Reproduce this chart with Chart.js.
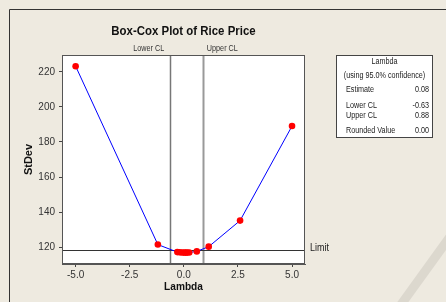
<!DOCTYPE html>
<html>
<head>
<meta charset="utf-8">
<script src="https://cdn.jsdelivr.net/npm/chart.js@4.4.1/dist/chart.umd.min.js"></script>
<style>
  html, body { margin: 0; padding: 0; background: #eeeae0; }
  #wrap { width: 446px; height: 302px; position: relative; }
</style>
</head>
<body>
<div id="wrap"><canvas id="mycanvas" width="446" height="302"></canvas></div>
<script>
// values
var lambdaVals = [-5, -1.2, -0.3, -0.2, -0.1, 0, 0.08, 0.15, 0.25, 0.6, 1.15, 2.6, 5];
var stdevVals = [223.3, 121.4, 117.1, 117.0, 116.9, 116.8, 116.8, 116.8, 116.9, 117.5, 120.2, 135.1, 189.1];
var xTicks = [-5, -2.5, 0, 2.5, 5];
var yTicks = [120, 140, 160, 180, 200, 220];
var lowerCL = -0.63;
var upperCL = 0.88;
var limitVal = 118.5;
var infoRows = [["Estimate", "0.08"], ["Lower CL", "-0.63"], ["Upper CL", "0.88"], ["Rounded Value", "0.00"]];

var FONT = "'Liberation Sans', Arial, sans-serif";

var points = [];
for (var i in lambdaVals) {
    points.push({x: lambdaVals[i], y: stdevVals[i]});
}

// draws text squeezed a little in width, like the narrow original font
function narrowText(c, txt, x, y, align, sx) {
    c.save();
    c.translate(x, y);
    c.scale(sx, 1);
    c.textAlign = align;
    c.fillText(txt, 0, 0);
    c.restore();
}

// background, frame and plot area
var backPlugin = {
    id: 'backPlugin',
    beforeDraw: function(chart) {
        var c = chart.ctx, a = chart.chartArea;
        c.save();
        // faint diagonal stripe of the screenshot
        c.strokeStyle = '#dcd8ce';
        c.lineWidth = 9;
        c.beginPath();
        c.moveTo(452, 234);
        c.lineTo(400, 306);
        c.stroke();
        // outer frame
        c.strokeStyle = '#333';
        c.lineWidth = 1;
        c.beginPath();
        c.moveTo(9.5, 302);
        c.lineTo(9.5, 9.5);
        c.lineTo(446, 9.5);
        c.stroke();
        c.fillStyle = '#fff';
        c.fillRect(a.left, a.top, a.right - a.left, a.bottom - a.top);
        c.restore();
    }
};

var overPlugin = {
    id: 'overPlugin',
    beforeDatasetsDraw: function(chart) {
        var c = chart.ctx, a = chart.chartArea;
        var xs = chart.scales.x, ys = chart.scales.y;
        c.save();
        var xl = Math.round(xs.getPixelForValue(lowerCL)) + 0.5;
        var xu = Math.round(xs.getPixelForValue(upperCL)) + 0.5;
        var yl = Math.round(ys.getPixelForValue(limitVal)) + 0.5;
        c.strokeStyle = '#777';
        c.lineWidth = 1.5;
        c.beginPath(); c.moveTo(xl, a.top); c.lineTo(xl, a.bottom); c.stroke();
        c.strokeStyle = '#999';
        c.lineWidth = 2;
        c.beginPath(); c.moveTo(xu, a.top); c.lineTo(xu, a.bottom); c.stroke();
        c.strokeStyle = '#333';
        c.lineWidth = 1;
        c.beginPath(); c.moveTo(a.left, yl); c.lineTo(a.right, yl); c.stroke();
        c.restore();
    },
    afterDraw: function(chart) {
        var c = chart.ctx, a = chart.chartArea;
        var xs = chart.scales.x, ys = chart.scales.y;
        c.save();
        // plot border
        c.strokeStyle = '#555';
        c.lineWidth = 1;
        c.strokeRect(a.left + 0.5, a.top + 0.5, a.right - a.left - 1, a.bottom - a.top - 1);

        c.fillStyle = '#111';
        c.textBaseline = 'middle';
        c.font = "bold 13px " + FONT;
        narrowText(c, "Box-Cox Plot of Rice Price", (a.left + a.right) / 2, 31, 'center', 0.88);
        c.font = "bold 11px " + FONT;
        narrowText(c, "Lambda", (a.left + a.right) / 2, 287, 'center', 0.92);
        c.save();
        c.translate(29, (a.top + a.bottom) / 2);
        c.rotate(-Math.PI / 2);
        c.textAlign = 'center';
        c.fillText("StDev", 0, 0);
        c.restore();

        c.font = "8.5px " + FONT;
        c.fillStyle = '#333';
        narrowText(c, "Lower CL", xs.getPixelForValue(lowerCL) - 6, 49, 'right', 0.85);
        narrowText(c, "Upper CL", xs.getPixelForValue(upperCL) + 4, 49, 'left', 0.85);
        c.font = "10px " + FONT;
        c.fillStyle = '#222';
        narrowText(c, "Limit", a.right + 5, ys.getPixelForValue(limitVal) - 1, 'left', 0.9);

        // info box
        var bx = 336.5, by = 55.5, bw = 96, bh = 82;
        c.fillStyle = '#fff';
        c.fillRect(bx, by, bw, bh);
        c.strokeStyle = '#444';
        c.strokeRect(bx, by, bw, bh);
        c.fillStyle = '#222';
        c.font = "8.5px " + FONT;
        narrowText(c, "Lambda", bx + bw / 2, 62, 'center', 0.85);
        narrowText(c, "(using 95.0% confidence)", bx + bw / 2, 75.5, 'center', 0.85);
        var rowY = [89.5, 105.5, 115.5, 131];
        for (var r in infoRows) {
            narrowText(c, infoRows[r][0], 346, rowY[r], 'left', 0.85);
            narrowText(c, infoRows[r][1], 429, rowY[r], 'right', 0.85);
        }
        c.restore();
    }
};

var ctx = document.getElementById("mycanvas");

var BoxCox = new Chart(ctx, {
    type: 'scatter',
    data: {
        datasets: [{
            label: "StDev",
            data: points,
            showLine: true,
            borderColor: "#0000ff",
            borderWidth: 1,
            backgroundColor: "#ff0000",
            pointBackgroundColor: "#ff0000",
            pointBorderColor: "#ff0000",
            pointRadius: 3.3,
            pointBorderWidth: 0
        }]
    },
    plugins: [backPlugin, overPlugin],
    options: {
        responsive: false,
        animation: false,
        events: [],
        layout: { padding: { left: 0, top: 55, right: 141, bottom: 0 } },
        plugins: { legend: { display: false }, tooltip: { enabled: false } },
        scales: {
            x: {
                type: 'linear',
                min: -5.63,
                max: 5.6,
                afterBuildTicks: function(scale) {
                    scale.ticks = xTicks.map(function(v) { return {value: v}; });
                },
                afterFit: function(scale) { scale.height = 38; },
                grid: { display: true, drawOnChartArea: false, drawTicks: true, tickLength: 3, color: '#444' },
                border: { display: true, color: '#555' },
                ticks: {
                    color: '#333',
                    padding: 2,
                    maxRotation: 0,
                    font: { family: FONT, size: 10 },
                    callback: function(v) { return v.toFixed(1); }
                }
            },
            y: {
                type: 'linear',
                min: 110.3,
                max: 229.7,
                afterBuildTicks: function(scale) {
                    scale.ticks = yTicks.map(function(v) { return {value: v}; });
                },
                afterFit: function(scale) { scale.width = 62; },
                grid: { display: true, drawOnChartArea: false, drawTicks: true, tickLength: 3, color: '#444' },
                border: { display: true, color: '#555' },
                ticks: {
                    color: '#333',
                    padding: 4,
                    font: { family: FONT, size: 10 },
                    callback: function(v) { return String(v); }
                }
            }
        }
    }
});
</script>
</body>
</html>
